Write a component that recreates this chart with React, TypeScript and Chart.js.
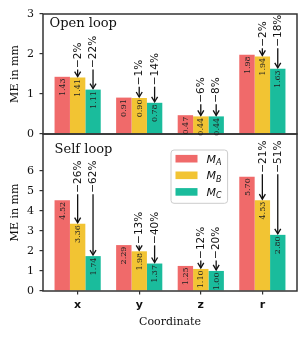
import React, { useEffect, useRef } from 'react';
import { Chart, registerables } from 'chart.js';
Chart.register(...registerables);

// ---- data ----
const coordinates = ['x', 'y', 'z', 'r'];
const coordPositions = [0, 1, 2, 3];
const seriesNames = ['A', 'B', 'C'];
const openA = [1.43, 0.91, 0.47, 1.98];
const openB = [1.41, 0.9, 0.44, 1.94];
const openC = [1.11, 0.78, 0.44, 1.63];
const selfA = [4.52, 2.29, 1.25, 5.7];
const selfB = [3.36, 1.98, 1.1, 4.53];
const selfC = [1.74, 1.37, 1.0, 2.8];
const openPctB = ['\u22122%', '\u22121%', '\u22126%', '\u22122%'];
const openPctC = ['\u221222%', '\u221214%', '\u22128%', '\u221218%'];
const selfPctB = ['\u221226%', '\u221213%', '\u221212%', '\u221221%'];
const selfPctC = ['\u221262%', '\u221240%', '\u221220%', '\u221251%'];
// value (in mm) where the percentage labels start
const openLabelLevel = [1.65, 1.22, 0.78, 2.18];
const selfLabelLevel = [4.9, 2.35, 1.6, 5.9];
const openTicks = [0, 1, 2, 3];
const selfTicks = [0, 1, 2, 3, 4, 5, 6];
const openMax = 3;
const selfMax = 7.83;
const xMin = -0.5625;
const xMax = 3.5625;

const COLORS = ['#F06A6A', '#F2C433', '#1ABC9C'];
const SERIF = "'DejaVu Serif'";
const SANS = "'DejaVu Sans'";

const annotPlugin = {
  id: 'annot',
  afterDatasetsDraw(chart: any) {
    const ctx = chart.ctx as CanvasRenderingContext2D;
    const area = chart.chartArea;
    const yOpen = chart.scales.yOpen;
    const ySelf = chart.scales.ySelf;

    // frames
    ctx.save();
    ctx.strokeStyle = '#333';
    ctx.lineWidth = 1.5;
    for (const s of [yOpen, ySelf]) {
      ctx.strokeRect(area.left, s.top, area.right - area.left, s.bottom - s.top);
    }
    ctx.restore();

    const panels = [
      { ds: [0, 1, 2], scale: yOpen, pcts: [openPctB, openPctC], level: openLabelLevel, vals: [openA, openB, openC] },
      { ds: [3, 4, 5], scale: ySelf, pcts: [selfPctB, selfPctC], level: selfLabelLevel, vals: [selfA, selfB, selfC] },
    ];
    ctx.save();
    for (const p of panels) {
      for (let i = 0; i < coordinates.length; i++) {
        // value labels
        for (let k = 0; k < 3; k++) {
          const bar = chart.getDatasetMeta(p.ds[k]).data[i];
          ctx.save();
          ctx.translate(bar.x, bar.y + 1.5);
          ctx.rotate(-Math.PI / 2);
          ctx.font = `8px ${SERIF}`;
          ctx.fillStyle = '#222';
          ctx.textAlign = 'right';
          ctx.textBaseline = 'middle';
          ctx.fillText(p.vals[k][i].toFixed(2), 0, 0.5);
          ctx.restore();
        }
        // percentage labels + arrows
        const anchorY = p.scale.getPixelForValue(p.level[i]);
        for (let k = 1; k < 3; k++) {
          const bar = chart.getDatasetMeta(p.ds[k]).data[i];
          ctx.save();
          ctx.translate(bar.x, anchorY);
          ctx.rotate(-Math.PI / 2);
          ctx.font = `10.5px ${SANS}`;
          ctx.fillStyle = '#111';
          ctx.textAlign = 'left';
          ctx.textBaseline = 'middle';
          ctx.fillText(p.pcts[k - 1][i], 0, 0.5);
          ctx.restore();

          const y0 = anchorY + 1.5;
          const y1 = bar.y - 1;
          ctx.strokeStyle = '#111';
          ctx.lineWidth = 1.3;
          ctx.beginPath();
          ctx.moveTo(bar.x, y0);
          ctx.lineTo(bar.x, y1);
          ctx.stroke();
          ctx.beginPath();
          ctx.moveTo(bar.x - 3, y1 - 5);
          ctx.lineTo(bar.x, y1);
          ctx.lineTo(bar.x + 3, y1 - 5);
          ctx.stroke();
        }
      }
    }
    ctx.restore();
  },
  afterDraw(chart: any) {
    const ctx = chart.ctx as CanvasRenderingContext2D;
    const area = chart.chartArea;
    const yOpen = chart.scales.yOpen;
    const ySelf = chart.scales.ySelf;
    ctx.save();
    ctx.fillStyle = '#111';
    ctx.font = `13px ${SERIF}`;
    ctx.textAlign = 'left';
    ctx.textBaseline = 'alphabetic';
    ctx.fillText('Open loop', area.left + 6.6, yOpen.top + 12.7);
    ctx.fillText('Self loop', area.left + 11.6, ySelf.top + 19);

    // legend
    const lx = area.left + 128;
    const ly = ySelf.top + 16;
    const lw = 56.6;
    const lh = 53.3;
    ctx.beginPath();
    (ctx as any).roundRect(lx, ly, lw, lh, 3);
    ctx.fillStyle = 'rgba(255,255,255,0.8)';
    ctx.fill();
    ctx.strokeStyle = '#cccccc';
    ctx.lineWidth = 1;
    ctx.stroke();
    for (let k = 0; k < 3; k++) {
      const cy = ly + 8.7 + k * 16.6;
      ctx.fillStyle = COLORS[k];
      ctx.fillRect(lx + 4.5, cy - 3.8, 22, 7.6);
      ctx.fillStyle = '#111';
      ctx.font = `italic 11px ${SANS}`;
      ctx.textBaseline = 'alphabetic';
      const tx = lx + 35.5;
      ctx.fillText('M', tx, cy + 4);
      const mw = ctx.measureText('M').width;
      ctx.font = `italic 8px ${SANS}`;
      ctx.fillText(seriesNames[k], tx + mw, cy + 6.5);
    }
    ctx.restore();
  },
};

export default function App() {
  const ref = useRef<HTMLCanvasElement>(null);
  useEffect(() => {
    document.body.style.margin = '0';
    const canvas = ref.current!;
    const pts = (vals: number[]) => vals.map((v, i) => ({ x: coordPositions[i], y: v }));
    const openSeries = [openA, openB, openC];
    const selfSeries = [selfA, selfB, selfC];
    const datasets: any[] = [];
    const addSeries = (series: number[][], axis: string) =>
      series.forEach((s, k) =>
        datasets.push({
          label: 'M' + seriesNames[k],
          data: pts(s),
          yAxisID: axis,
          stack: seriesNames[k],
          backgroundColor: COLORS[k],
          borderWidth: 0,
          categoryPercentage: 0.75,
          barPercentage: 1,
        })
      );
    addSeries(openSeries, 'yOpen');
    addSeries(selfSeries, 'ySelf');
    const tickFont = { family: 'DejaVu Serif', size: 11 };
    const yCommon = (ticksArr: number[], max: number, weight: number, sw: number) => ({
      type: 'linear',
      position: 'left',
      stack: 'panels',
      stackWeight: sw,
      weight,
      stacked: false,
      min: 0,
      max,
      bounds: 'data',
      afterBuildTicks: (s: any) => {
        s.ticks = ticksArr.map((v) => ({ value: v }));
      },
      afterFit: (s: any) => {
        s.width = 43;
      },
      ticks: { font: tickFont, color: '#111', padding: 5.5, autoSkip: false },
      grid: { drawOnChartArea: false, drawTicks: true, tickLength: 3.5, color: '#333', lineWidth: 1.2 },
      border: { display: false },
      title: {
        display: true,
        text: 'ME in mm',
        font: { family: 'DejaVu Serif', size: 11 },
        color: '#111',
        padding: { top: 8.4, bottom: 0 },
      },
    });
    const chart = new Chart(canvas, {
      type: 'bar',
      data: { datasets },
      options: {
        responsive: false,
        animation: false,
        devicePixelRatio: 1,
        events: [],
        layout: { padding: { top: 14, right: 10, left: 0, bottom: 0 } },
        plugins: { legend: { display: false }, tooltip: { enabled: false } },
        scales: {
          x: {
            type: 'linear',
            position: 'bottom',
            min: xMin,
            max: xMax,
            offset: false,
            bounds: 'data',
            afterBuildTicks: (s: any) => {
              s.ticks = coordPositions.map((v) => ({ value: v }));
            },
            afterFit: (s: any) => {
              s.height = 47;
            },
            ticks: {
              autoSkip: false,
              maxRotation: 0,
              padding: 4,
              color: '#111',
              font: { family: 'DejaVu Sans', size: 11, weight: 'bold' },
              callback: (v: any) => coordinates[coordPositions.indexOf(Number(v))] ?? '',
            },
            grid: { offset: false, drawOnChartArea: false, drawTicks: true, tickLength: 3.5, color: '#333', lineWidth: 1.2 },
            border: { display: false },
            title: {
              display: true,
              text: 'Coordinate',
              font: { family: 'DejaVu Serif', size: 11 },
              color: '#111',
              padding: { top: 0, bottom: 9.4 },
            },
          },
          yOpen: yCommon(openTicks, openMax, 2, 120),
          ySelf: yCommon(selfTicks, selfMax, 1, 157),
        } as any,
      },
      plugins: [annotPlugin],
    } as any);
    return () => chart.destroy();
  }, []);
  return (
    <div style={{ width: 307, height: 338 }}>
      <canvas ref={ref} width={307} height={338} style={{ display: 'block', width: 307, height: 338 }} />
    </div>
  );
}
